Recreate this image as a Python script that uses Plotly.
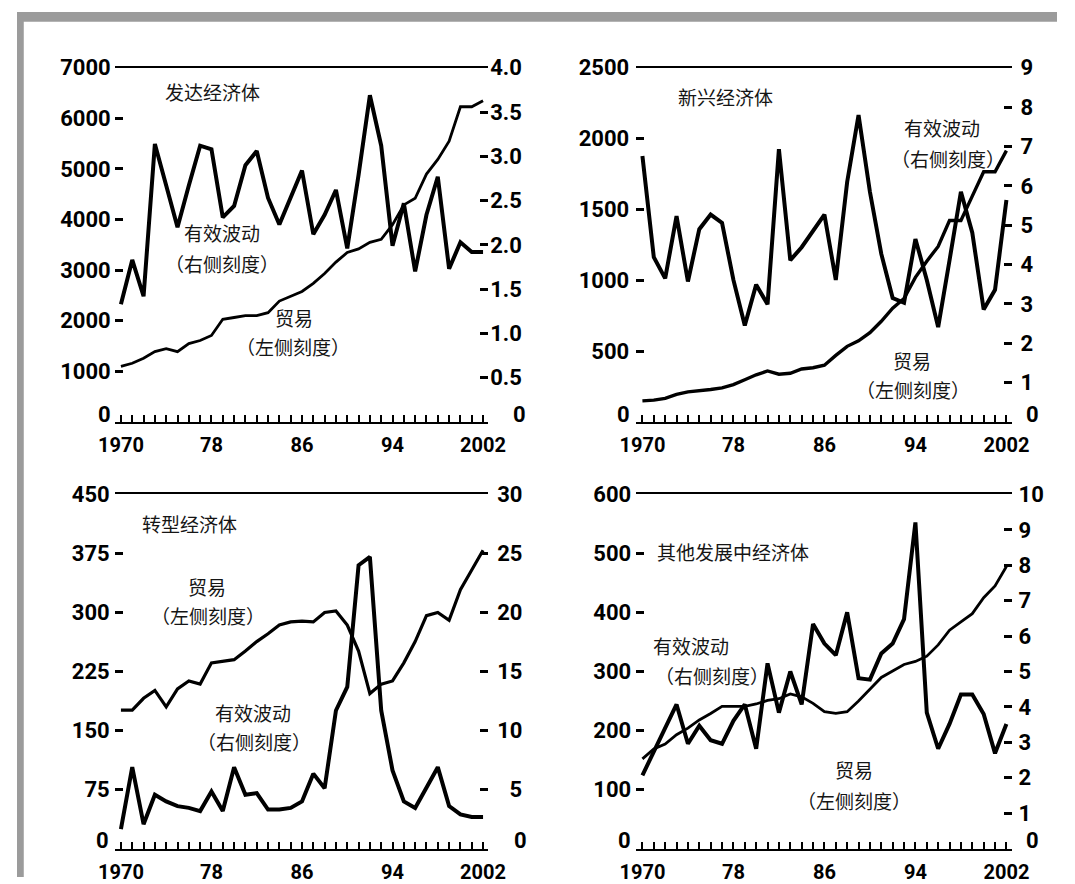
import plotly.graph_objects as go

W, H = 1075, 884

years = list(range(1970, 2003))
x_label_map = {1970: "1970", 1978: "78", 1986: "86", 1994: "94", 2002: "2002"}

# 发达经济体
dev_trade = [1100, 1160, 1260, 1390, 1450, 1390, 1550, 1610, 1710, 2030, 2065, 2100, 2100,
             2160, 2390, 2480, 2580, 2740, 2935, 3160, 3350, 3420, 3550, 3610, 3900, 4290,
             4420, 4900, 5190, 5550, 6230, 6230, 6350]
dev_vol = [1.33, 1.83, 1.42, 3.14, 2.67, 2.20, 2.67, 3.12, 3.08, 2.31, 2.44, 2.90, 3.06,
           2.53, 2.23, 2.53, 2.84, 2.12, 2.34, 2.62, 1.96, 2.79, 3.69, 3.12, 1.99, 2.47,
           1.70, 2.34, 2.77, 1.73, 2.03, 1.92, 1.92]
dev_left_ticks = [0, 1000, 2000, 3000, 4000, 5000, 6000, 7000]
dev_right_ticks = [0, 0.5, 1.0, 1.5, 2.0, 2.5, 3.0, 3.5, 4.0]
dev_right_text = ["0", "0.5", "1.0", "1.5", "2.0", "2.5", "3.0", "3.5", "4.0"]

# 新兴经济体
em_trade = [149, 154, 167, 195, 213, 218, 229, 241, 264, 298, 333, 360, 337, 344, 374, 383,
            401, 470, 534, 573, 631, 711, 803, 872, 1021, 1135, 1239, 1422, 1422, 1594,
            1766, 1766, 1915]
em_vol = [6.76, 4.19, 3.65, 5.23, 3.57, 4.90, 5.27, 5.06, 3.61, 2.45, 3.49, 2.99, 6.93, 4.11,
          4.44, 4.85, 5.27, 3.61, 6.10, 7.80, 5.85, 4.27, 3.15, 3.03, 4.65, 3.61, 2.41, 4.11,
          5.85, 4.81, 2.86, 3.36, 5.64]
em_left_ticks = [0, 500, 1000, 1500, 2000, 2500]
em_right_ticks = [0, 1, 2, 3, 4, 5, 6, 7, 8, 9]
em_right_text = ["0", "1", "2", "3", "4", "5", "6", "7", "8", "9"]

# 转型经济体
tr_trade = [176, 176, 191, 201, 180, 203, 213, 209, 236, 238, 240, 251, 263, 273, 284, 288,
            289, 288, 300, 302, 284, 251, 197, 209, 213, 236, 263, 296, 300, 290, 329, 354, 379]
tr_vol = [1.66, 6.9, 2.07, 4.56, 4.0, 3.6, 3.45, 3.18, 4.83, 3.18, 6.9, 4.56, 4.7, 3.31, 3.31,
          3.45, 4.0, 6.35, 5.11, 11.7, 13.7, 24.0, 24.7, 11.7, 6.63, 4.0, 3.45, 5.11, 6.9, 3.6,
          2.9, 2.68, 2.68]
tr_left_ticks = [0, 75, 150, 225, 300, 375, 450]
tr_right_ticks = [0, 5, 10, 15, 20, 25, 30]
tr_right_text = ["0", "\u20075", "10", "15", "20", "25", "30"]

# 其他发展中经济体
od_trade = [152, 169, 177, 193, 204, 218, 229, 241, 241, 241, 245, 251, 254, 262, 257, 246,
            232, 229, 232, 250, 270, 290, 301, 312, 317, 326, 345, 370, 384, 398, 425, 445, 478]
od_vol = [2.07, 2.75, 3.4, 4.07, 2.96, 3.47, 3.06, 2.96, 3.61, 4.07, 2.82, 5.23, 3.84, 5.0,
          4.07, 6.34, 5.79, 5.46, 6.67, 4.81, 4.77, 5.51, 5.79, 6.48, 9.21, 3.84, 2.82, 3.52,
          4.35, 4.35, 3.80, 2.69, 3.52]
od_left_ticks = [0, 100, 200, 300, 400, 500, 600]
od_right_ticks = [0, 1, 2, 3, 4, 5, 6, 7, 8, 9, 10]
od_right_text = ["0", "1", "2", "3", "4", "5", "6", "7", "8", "9", "10"]

titles = ["发达经济体", "新兴经济体", "转型经济体", "其他发展中经济体"]
vol_label = ["有效波动", "（右侧刻度）"]
trade_label = ["贸易", "（左侧刻度）"]


def px(v):
    return v / W


def py(v):
    return 1 - v / H


YFONT = dict(family="Roboto", size=22, color="black", weight="bold")
XFONT = dict(family="Roboto", size=20, color="black", weight="bold")
CJK = dict(family="Noto Sans CJK SC", size=19, color="#151515")

panels = [
    dict(trade=dev_trade, vol=dev_vol, xpx=(101, 487), ypx=(57, 419),
         lt=dev_left_ticks, rt=dev_right_ticks, rtt=dev_right_text, tw=2.8,
         lso=3, rso=1,
         zero=((90, 411), (519, 411)),
         notes=[(titles[0], 202, 81), (vol_label[0], 212, 225), (vol_label[1], 212, 257),
                (trade_label[0], 286, 312), (trade_label[1], 285, 342)]),
    dict(trade=em_trade, vol=em_vol, xpx=(640, 1028), ypx=(57, 419),
         lt=em_left_ticks, rt=em_right_ticks, rtt=em_right_text, tw=3.4,
         lso=6, rso=8,
         zero=((627, 411), (1050, 411)),
         notes=[(titles[1], 732, 86), (vol_label[0], 956, 118), (vol_label[1], 962, 150),
                (trade_label[0], 925, 356), (trade_label[1], 926, 386)]),
    dict(trade=tr_trade, vol=tr_vol, xpx=(101, 487), ypx=(493, 855),
         lt=tr_left_ticks, rt=tr_right_ticks, rtt=tr_right_text, tw=3.2,
         lso=4, rso=8,
         zero=((88, 847), (520, 847)),
         notes=[(titles[2], 178, 523), (trade_label[0], 196, 587), (trade_label[1], 197, 617),
                (vol_label[0], 244, 716), (vol_label[1], 245, 746)]),
    dict(trade=od_trade, vol=od_vol, xpx=(640, 1028), ypx=(493, 855),
         lt=od_left_ticks, rt=od_right_ticks, rtt=od_right_text, tw=2.8,
         lso=4, rso=6,
         zero=((628, 847), (1050, 847)),
         notes=[(titles[3], 740, 551), (vol_label[0], 697, 647), (vol_label[1], 718, 678),
                (trade_label[0], 865, 774), (trade_label[1], 865, 806)]),
]

fig = go.Figure()
layout = {}
annotations = []
xtext = [x_label_map.get(y, "") for y in years]

for i, p in enumerate(panels):
    n = i + 1
    xname = "x" if n == 1 else f"x{n}"
    yl_n = 2 * n - 1
    yr_n = 2 * n
    yl = "y" if yl_n == 1 else f"y{yl_n}"
    yr = f"y{yr_n}"
    xkey = "xaxis" if n == 1 else f"xaxis{n}"
    ylkey = "yaxis" if yl_n == 1 else f"yaxis{yl_n}"
    yrkey = f"yaxis{yr_n}"

    fig.add_trace(go.Scatter(x=years, y=p["trade"], xaxis=xname, yaxis=yl, mode="lines",
                             line=dict(color="black", width=p["tw"]), showlegend=False,
                             hoverinfo="skip"))
    fig.add_trace(go.Scatter(x=years, y=p["vol"], xaxis=xname, yaxis=yr, mode="lines",
                             line=dict(color="black", width=4), showlegend=False,
                             hoverinfo="skip"))

    layout[xkey] = dict(
        domain=[px(p["xpx"][0]), px(p["xpx"][1])], range=[1969.45, 2002.45], anchor=yl,
        showline=True, mirror=True, linecolor="black", linewidth=2,
        ticks="inside", ticklen=7, tickwidth=1.5, tickcolor="black",
        tickmode="array", tickvals=years, ticktext=xtext, tickfont=XFONT,
        ticklabelstandoff=4, showgrid=False, zeroline=False, fixedrange=True)
    # zero labels are drawn separately (raised above the baseline, as in the reference)
    layout[ylkey] = dict(
        domain=[py(p["ypx"][1]), py(p["ypx"][0])], range=[p["lt"][0], p["lt"][-1]],
        anchor=xname, showline=False, ticks="inside", ticklen=8, tickwidth=2.5,
        tickcolor="black", tickmode="array", tickvals=p["lt"][1:],
        ticktext=[str(v) for v in p["lt"][1:]], tickfont=YFONT,
        ticklabelstandoff=p["lso"], showgrid=False, zeroline=False, fixedrange=True)
    layout[yrkey] = dict(
        overlaying=yl, side="right", anchor=xname, range=[p["rt"][0], p["rt"][-1]],
        showline=False, ticks="inside", ticklen=8, tickwidth=2.5, tickcolor="black",
        tickmode="array", tickvals=p["rt"][1:], ticktext=p["rtt"][1:], tickfont=YFONT,
        ticklabelstandoff=p["rso"], showgrid=False, zeroline=False, fixedrange=True)

    (lx, ly), (rx, ry) = p["zero"]
    annotations.append(dict(text=str(p["lt"][0]), x=px(lx), y=py(ly), xref="paper",
                            yref="paper", showarrow=False, font=YFONT,
                            xanchor="center", yanchor="middle"))
    annotations.append(dict(text=p["rtt"][0], x=px(rx), y=py(ry), xref="paper",
                            yref="paper", showarrow=False, font=YFONT,
                            xanchor="center", yanchor="middle"))

    for text, cx, cy in p["notes"]:
        annotations.append(dict(text=text, x=px(cx), y=py(cy), xref="paper", yref="paper",
                                showarrow=False, font=CJK, xanchor="center", yanchor="middle"))

shapes = [
    dict(type="rect", xref="paper", yref="paper", x0=0, x1=1, y0=py(10), y1=1,
         fillcolor="#9b9b9b", line=dict(width=0), layer="above"),
    dict(type="rect", xref="paper", yref="paper", x0=0, x1=px(7), y0=0, y1=1,
         fillcolor="#9b9b9b", line=dict(width=0), layer="above"),
]

fig.update_layout(width=W, height=H, autosize=False,
                  margin=dict(l=0, r=0, t=0, b=0, pad=0),
                  paper_bgcolor="white", plot_bgcolor="white",
                  annotations=annotations, shapes=shapes, **layout)

fig.write_html("out.html", config={"displayModeBar": False},
               post_script="document.body.style.margin='0';"
                           "document.documentElement.style.overflow='hidden';")
